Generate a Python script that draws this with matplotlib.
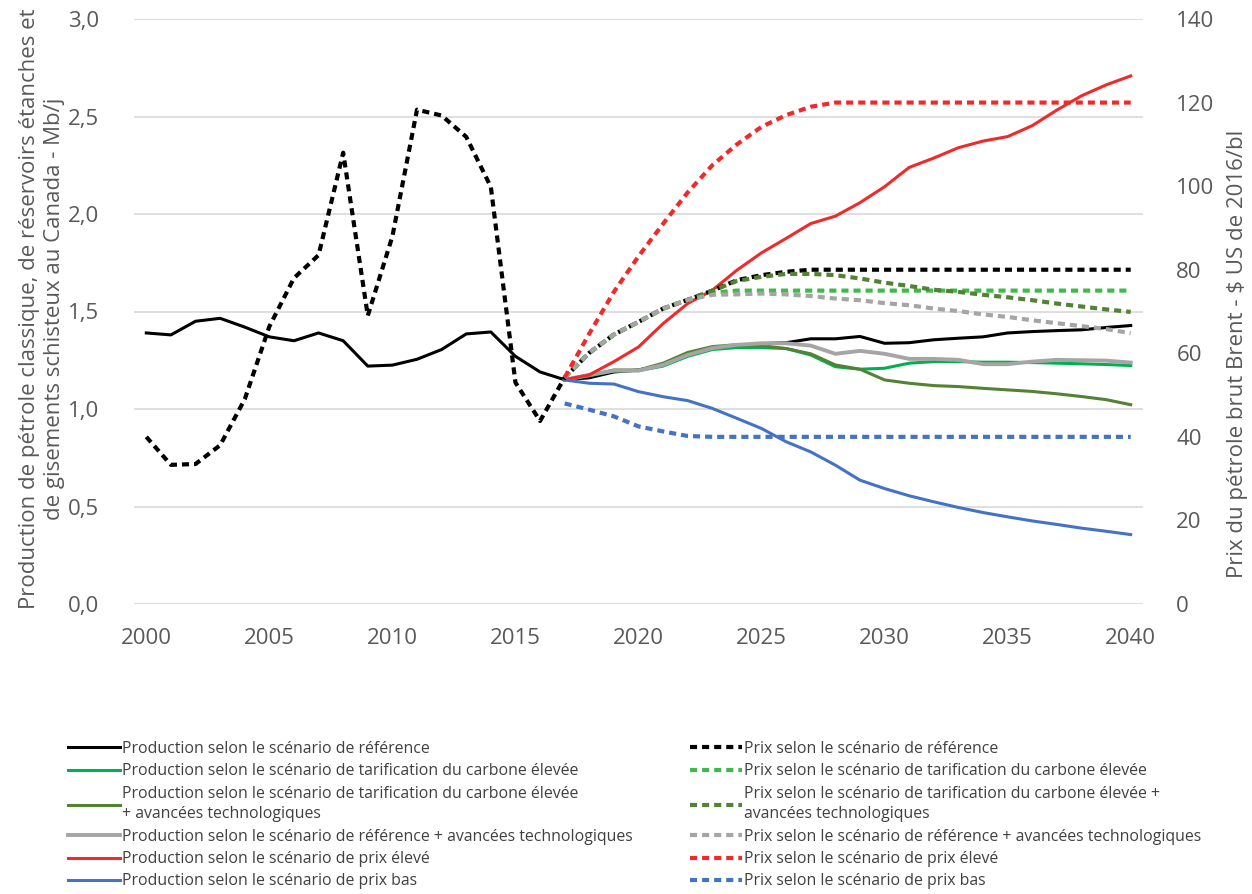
import numpy as np
import matplotlib
matplotlib.use("Agg")
import matplotlib.pyplot as plt

# ---- data -----------------------------------------------------------------
years_all = list(range(2000, 2041))
years_proj = list(range(2017, 2041))

# production, Mb/j
prod_ref = [1.39, 1.38, 1.45, 1.465, 1.42, 1.37, 1.35, 1.39, 1.35, 1.22,
            1.225, 1.255, 1.305, 1.385, 1.395, 1.27, 1.19, 1.15,
            1.16, 1.19, 1.20, 1.225, 1.275, 1.31, 1.325, 1.335, 1.34, 1.36,
            1.36, 1.372, 1.337, 1.34, 1.355, 1.363, 1.37, 1.39, 1.397, 1.402,
            1.406, 1.418, 1.428]
prod_carbon = [1.15, 1.17, 1.195, 1.197, 1.22, 1.27, 1.305, 1.315, 1.315, 1.31,
               1.277, 1.217, 1.204, 1.209, 1.235, 1.243, 1.243, 1.24, 1.24,
               1.238, 1.235, 1.232, 1.228, 1.223]
prod_carbon_tech = [1.15, 1.172, 1.2, 1.2, 1.235, 1.29, 1.32, 1.33, 1.325, 1.31,
                    1.283, 1.226, 1.204, 1.149, 1.132, 1.12, 1.115, 1.106, 1.098,
                    1.09, 1.078, 1.064, 1.048, 1.022]
prod_ref_tech = [1.15, 1.175, 1.197, 1.197, 1.226, 1.277, 1.312, 1.329, 1.337,
                 1.337, 1.325, 1.283, 1.298, 1.283, 1.257, 1.257, 1.252, 1.23,
                 1.23, 1.243, 1.252, 1.25, 1.248, 1.238]
prod_high = [1.15, 1.175, 1.243, 1.318, 1.438, 1.541, 1.609, 1.712, 1.801, 1.875,
             1.951, 1.989, 2.058, 2.14, 2.239, 2.287, 2.34, 2.374, 2.397, 2.453,
             2.533, 2.606, 2.662, 2.708]
prod_low = [1.149, 1.132, 1.128, 1.089, 1.063, 1.043, 1.003, 0.952, 0.9, 0.832,
            0.78, 0.712, 0.635, 0.592, 0.555, 0.524, 0.495, 0.469, 0.447, 0.426,
            0.408, 0.389, 0.373, 0.356]

# Brent price, $ US 2016/bl
price_ref = [40, 33.3, 33.5, 38, 49, 66.4, 78, 83.5, 108, 69, 88, 118.3, 116.9,
             111.8, 99.8, 53, 43.8, 54.2,
             60.1, 64.5, 67.5, 70.7, 72.8, 75, 77.5, 78.7, 79.5, 80,
             80, 80, 80, 80, 80, 80, 80, 80, 80, 80, 80, 80, 80]
price_carbon = [54.2, 60.1, 64.5, 67.5, 70.7, 72.8, 74.5, 75, 75, 75, 75, 75,
                75, 75, 75, 75, 75, 75, 75, 75, 75, 75, 75, 75]
price_carbon_tech = [54.2, 60.1, 64.5, 67.5, 70.7, 72.8, 75, 77.3, 78.3, 79.0,
                     79.0, 78.7, 77.9, 76.9, 76.1, 75.2, 74.7, 74.0, 73.4, 72.7,
                     71.9, 71.2, 70.5, 69.9]
price_ref_tech = [54.2, 60.1, 64.5, 67.5, 70.7, 72.8, 74, 74.1, 74.3, 74.1, 73.7,
                  73.1, 72.7, 72.0, 71.5, 70.7, 70.1, 69.3, 68.7, 67.9, 67.2,
                  66.5, 65.8, 64.8]
price_high = [54.2, 64.7, 74.7, 83.2, 91, 98.5, 105, 110, 114.2, 117, 119, 120,
              120, 120, 120, 120, 120, 120, 120, 120, 120, 120, 120, 120]
price_low = [48, 46.5, 44.9, 42.5, 41.3, 40.2, 40, 40, 40, 40, 40, 40, 40, 40,
             40, 40, 40, 40, 40, 40, 40, 40, 40, 40]

BLACK = "#000000"; GREEN = "#00B050"; DKGREEN = "#548235"
GREY = "#A5A5A5"; RED = "#EE2A2A"; BLUE = "#4472C4"
TXT = "#595959"

plt.rcParams.update({"font.family": ["Open Sans", "DejaVu Sans"]})

fig = plt.figure(figsize=(12.52, 8.94), dpi=100)
W, H = 1252, 894
ax = fig.add_axes([134 / W, 1 - 604 / H, (1143 - 134) / W, (604 - 19) / H])
ax2 = ax.twinx()

LW = 2.2
DOT = dict(lw=3.0, linestyle=(0, (1.7, 1.2)), dash_capstyle="butt")

h_ref, = ax.plot(years_all, prod_ref, color=BLACK, lw=LW,
                 label="Production selon le scénario de référence")
h_car, = ax.plot(years_proj, prod_carbon, color=GREEN, lw=LW,
                 label="Production selon le scénario de tarification du carbone élevée")
h_ct, = ax.plot(years_proj, prod_carbon_tech, color=DKGREEN, lw=LW,
                label="Production selon le scénario de tarification du carbone élevée\n+ avancées technologiques")
h_rt, = ax.plot(years_proj, prod_ref_tech, color=GREY, lw=LW + 0.6,
                label="Production selon le scénario de référence + avancées technologiques")
h_hi, = ax.plot(years_proj, prod_high, color=RED, lw=LW,
                label="Production selon le scénario de prix élevé")
h_lo, = ax.plot(years_proj, prod_low, color=BLUE, lw=LW,
                label="Production selon le scénario de prix bas")

p_ref, = ax2.plot(years_all, price_ref, color=BLACK, **DOT,
                  label="Prix selon le scénario de référence")
p_car, = ax2.plot(years_proj, price_carbon, color="#3DBA4A", **DOT,
                  label="Prix selon le scénario de tarification du carbone élevée")
p_ct, = ax2.plot(years_proj, price_carbon_tech, color=DKGREEN, **DOT,
                 label="Prix selon le scénario de tarification du carbone élevée +\navancées technologiques")
p_rt, = ax2.plot(years_proj, price_ref_tech, color=GREY, **DOT,
                 label="Prix selon le scénario de référence + avancées technologiques")
p_hi, = ax2.plot(years_proj, price_high, color=RED, **DOT,
                 label="Prix selon le scénario de prix élevé")
p_lo, = ax2.plot(years_proj, price_low, color=BLUE, **DOT,
                 label="Prix selon le scénario de prix bas")

ax.set_xlim(1999.5, 2040.5)
ax.set_ylim(0, 3.0)
ax2.set_ylim(0, 140)
ax.set_xticks(range(2000, 2041, 5))
ax.set_yticks(np.arange(0, 3.01, 0.5))
ax.set_yticklabels([f"{v:.1f}".replace(".", ",") for v in np.arange(0, 3.01, 0.5)])
ax2.set_yticks(range(0, 141, 20))

for a in (ax, ax2):
    for s in a.spines.values():
        s.set_visible(False)
    a.tick_params(length=0, labelsize=16, labelcolor=TXT)
ax.tick_params(axis="y", pad=25)
ax.tick_params(axis="x", pad=17)
ax2.tick_params(axis="y", pad=24)
ax.grid(axis="y", color="#D9D9D9", lw=1.2)
ax.set_axisbelow(True)

# axis titles
fig.text(42 / W, 1 - 309 / H,
         "Production de pétrole classique, de réservoirs étanches et\n"
         "de gisements schisteux au Canada - Mb/j",
         rotation=90, ha="center", va="center", multialignment="center",
         fontsize=16, color=TXT, linespacing=1.26)
fig.text(1237 / W, 1 - 354 / H, "Prix du pétrole brut Brent - $ US de 2016/bl",
         rotation=90, ha="center", va="center", fontsize=16, color=TXT)

leg_kw = dict(frameon=False, handlelength=3.3, handletextpad=0.13,
              labelspacing=0.4, borderpad=0, borderaxespad=0, loc="upper left",
              prop={"family": ["Open Sans", "DejaVu Sans"], "size": 11.4})
l1 = fig.legend(handles=[h_ref, h_car, h_ct, h_rt, h_hi, h_lo],
                bbox_to_anchor=(68 / W, 1 - 741 / H), **leg_kw)
l2 = fig.legend(handles=[p_ref, p_car, p_ct, p_rt, p_hi, p_lo],
                bbox_to_anchor=(690 / W, 1 - 741 / H), **leg_kw)
for lg in (l1, l2):
    for t in lg.get_texts():
        t.set_color("#404040")
        t.set_linespacing(1.4)

fig.savefig("out.png", dpi=100)
